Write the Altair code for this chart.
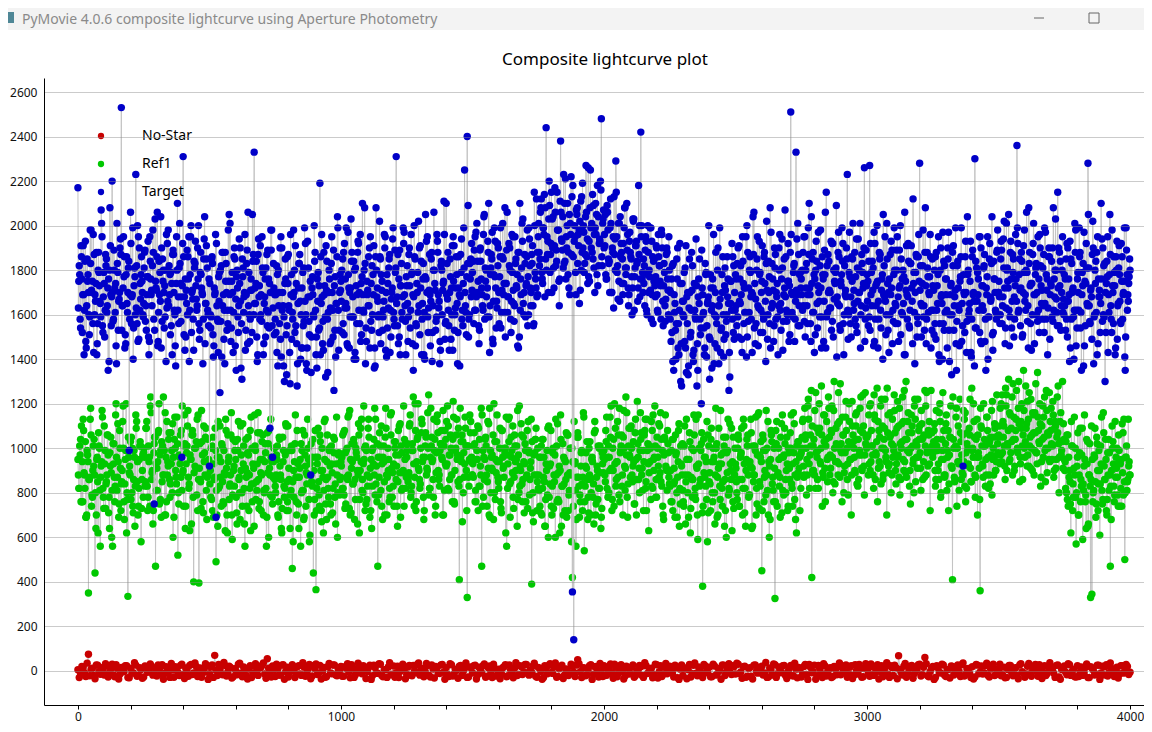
import altair as alt
import pandas as pd

# ---------------- values
# Target / Ref1: three interleaved readings per 5-frame step (offsets 0, 5/3, 10/3 frames)
# No-Star: two interleaved readings per 10-frame step (offsets 0, 5 frames)
target_a = [
    2170,1820,1540,1760,1910,1620,1480,1850,1700,1590,
    1980,1750,1430,1690,1880,1560,1790,1650,2010,1520,
    1740,1870,1610,1350,1800,1690,2200,1580,1720,1460,
    1830,1660,1900,2530,1640,1770,1510,1860,1700,990,
    2060,1680,1400,1810,2230,1560,1950,1620,1780,1700,
    1650,1890,1530,1770,1420,1840,1710,1980,750,1750,
    1860,1480,1690,2040,1570,1800,1730,1390,1920,1640,
    1780,1550,1870,1700,1460,1950,1620,1810,1740,960,
    2310,1680,1500,1890,1760,1620,2000,1710,1440,1830,
    1670,1900,1560,1790,1720,1380,1940,1650,1850,1600,
    920,1540,1860,1410,1690,690,1580,1770,1250,1820,
    1640,1490,1880,1700,1560,2050,1620,1750,1430,1900,
    1670,1800,1520,1740,1360,1850,1610,1960,1690,1470,
    1790,1580,1710,1840,2330,1650,1500,1870,1730,1600,
    1950,1420,1680,1810,1550,1760,1090,1890,960,1720,
    1580,1820,1370,1700,1490,1900,1640,1300,1760,1550,
    1870,1430,1690,1610,1980,1520,1740,1380,1830,1660,
    1450,1790,1570,1920,1350,1680,1510,880,1720,1600,
    1840,1420,1760,1530,2190,1650,1470,1880,1590,1710,
    1340,1800,1630,1950,1500,1730,1410,1860,1620,1700,
    1750,1520,1880,1630,1990,1460,1720,1590,1840,1680,
    1400,1810,1560,1930,1700,1480,1770,1620,2080,1540,
    1690,1860,1450,1740,1600,1910,1370,1800,1660,1520,
    1850,1710,1590,1960,1440,1780,1630,1870,1500,1720,
    1610,1890,2310,1550,1760,1420,1830,1680,1970,1570,
    1730,1480,1900,1620,1790,1350,1860,1560,1700,2020,
    1510,1840,1650,1420,1770,1930,1590,1710,1460,1880,
    1640,1800,1530,1960,1690,1380,1820,1600,1750,1490,
    2100,1670,1550,1850,1720,1440,1910,1630,1780,1520,
    1690,1870,1580,1740,2250,1610,2400,1500,1830,1680,
    1790,1560,1950,1680,1840,1470,1900,1720,1620,2050,
    1750,1590,1880,1430,1810,1970,1660,1770,1540,1920,
    1700,1860,1610,2010,1740,1500,1890,1680,1820,1580,
    1960,1710,1640,1850,1780,1450,2100,1690,1930,1600,
    1830,1740,1550,1990,1720,1870,1640,2150,1760,1680,
    1950,1820,2080,1760,1990,1680,2440,1870,2030,1790,
    2150,1900,1720,2060,1840,1980,1640,2380,1930,1810,
    2100,1760,2000,1880,1690,2220,355,140,1950,2070,
    1830,1980,1710,2130,1900,1790,2040,1860,2260,1750,
    1990,1880,2090,1700,1960,2180,1820,1930,2480,2010,
    1900,2050,1760,1980,1840,2120,1700,1950,1870,2290,
    1790,2010,1660,1920,1850,1740,2080,1810,1960,1690,
    1880,1770,2030,1620,1910,1830,1720,2000,2420,1760,
    1850,1640,1930,1780,1700,1990,1580,1860,1750,1680,
    1900,1610,1820,1730,1960,1550,1790,1670,1880,1600,
    1710,1480,1820,1350,1650,1560,1900,1420,1740,1280,
    1600,1790,1450,1680,1330,1850,1520,1710,1390,1620,
    1940,1470,1760,1580,1200,1690,1540,1830,1410,1660,
    1500,1780,1360,1720,1600,1880,1450,1640,1990,1530,
    1700,1410,1810,1570,1680,1260,1750,1620,1860,1490,
    1780,1550,1900,1660,1820,1430,1740,1610,1950,1500,
    1720,1860,1580,1690,2060,1470,1800,1640,1930,1520,
    1750,1600,1880,1390,1710,1840,1560,1970,1650,1480,
    1810,1700,1590,1900,1620,1760,1440,1850,1680,1570,
    1920,1730,2510,1610,1790,1480,2330,1690,1870,1550,
    1760,1620,1950,1500,1830,1690,2100,1560,1740,1880,
    1430,1800,1650,1970,1590,1720,1860,1480,1780,2150,
    1610,1840,1700,1530,1920,1670,1790,1410,1880,1640,
    1750,1990,1560,1820,1680,2230,1600,1770,1500,1850,
    1710,1580,1940,1660,1800,1450,1870,1720,2260,1630,
    1780,1550,2270,1690,1840,1460,1920,1640,1750,1580,
    1870,1710,1400,1820,1660,2010,1530,1760,1690,1890,
    1570,1800,1640,1950,1480,1730,1850,1600,1770,1420,
    1910,1680,1550,1830,1720,2120,1610,1790,1500,1860,
    2280,1650,1740,1590,1880,1470,1810,1700,1960,1620,
    1730,1510,1860,1620,1780,1390,1900,1650,1560,1820,
    1690,1450,1970,1600,1740,1880,1530,1710,1350,1840,
    1620,1770,1480,920,1690,1930,1570,1800,1650,1430,
    1860,1700,2300,1540,1790,1620,1950,1470,1730,1820,
    1580,1690,1400,1850,1660,2040,1520,1760,1610,1890,
    1700,1560,1930,1640,1810,1470,2010,1750,1620,1880,
    1540,1790,1680,1960,2360,1610,1850,1720,1500,1910,
    1660,1800,1570,2080,1730,1440,1870,1690,1780,1600,
    1950,1520,1820,1710,1640,1990,1580,1760,1860,1490,
    1730,1900,1620,1800,1670,2150,1550,1840,1700,1610,
    1780,1530,1920,1660,1390,1850,1700,1590,2010,1460,
    1760,1620,1880,1350,1730,1970,1550,1810,2280,1640,
    1710,1490,1900,1600,1840,1420,1760,1680,2100,1570,
    1820,1300,1740,1950,1610,1870,1520,1700,1790,1450,
    1930,1650,1780,1560,1860,1700,1410,1990,1620,1740,
    1800,
]

target_b = [
    1630,1780,1910,1520,1690,1840,1450,1750,1600,1980,
    1710,1560,1870,1660,1420,1800,1730,1590,1950,1680,
    1500,1820,1640,1760,2080,1550,1700,1890,1610,1380,
    1790,1670,1940,1530,1720,1860,1470,1650,1810,1580,
    1920,1690,1540,1770,1630,2000,1490,1740,1860,1600,
    1810,1570,1690,1930,1480,1760,1640,1880,1530,1720,
    2060,1610,1790,1450,1850,1700,1590,1960,1660,1820,
    1510,1740,1890,1620,1370,1800,1680,2010,1570,1730,
    1860,1440,1710,1600,1950,1780,1520,1670,1840,1930,
    1620,1760,1490,1880,1700,1580,2040,1650,1810,1550,
    1740,1590,1830,1460,1700,1920,1570,1660,1800,1410,
    1880,1620,1750,1530,1980,1690,1480,1790,1610,1850,
    1350,1720,1640,1900,1560,1770,1680,1440,1830,2060,
    1600,1710,1520,1870,1650,1740,1390,1940,1580,1690,
    1810,1470,1760,1620,1890,1540,1700,1980,1630,1510,
    1690,1430,1800,1560,1950,1620,1370,1740,1510,1860,
    1640,1290,1780,1580,1700,1910,1470,1650,1830,1400,
    1720,1550,1990,1600,1450,1810,1680,1340,1770,1590,
    1880,1500,1660,1730,1420,1960,1570,1690,1320,1840,
    1610,1760,1480,1700,1890,1530,1650,2040,1440,1780,
    1660,1850,1510,1760,1630,1970,1450,1720,1880,1590,
    1800,1400,1690,1920,1560,1740,2100,1610,1830,1480,
    1710,1640,1950,1530,1780,1360,1860,1680,1590,2020,
    1470,1750,1620,1900,1700,1540,1810,1430,1670,1940,
    1580,1790,1650,1870,1500,1730,1610,1990,1690,1420,
    1820,1590,1730,1960,1470,1680,1850,1550,1790,1640,
    1910,1420,1760,1610,2050,1700,1520,1870,1660,1390,
    1800,1740,1570,1930,1630,1480,1840,1710,2110,1560,
    1690,1880,1440,1770,1600,1950,1530,1720,1650,1860,
    1370,1790,1620,1990,1700,1510,1830,1580,1760,1920,
    1700,1890,1620,2010,1750,1530,1840,1690,1960,1580,
    1800,1720,2100,1640,1870,1490,1780,1930,1660,1820,
    1560,1990,1710,1850,1610,1740,2060,1680,1900,1520,
    1790,1650,1950,1730,1460,1880,1620,1810,2030,1700,
    1590,1860,1770,1940,1640,1830,1550,2000,1720,1880,
    2010,1850,2120,1740,1960,2080,1800,1930,2200,1870,
    1700,2040,1910,1820,2150,1980,1760,2060,1890,2230,
    1840,1950,2100,1720,2010,1870,2180,1930,1790,2050,
    1960,1650,2110,1880,2000,1830,2270,1940,1770,2080,
    1900,2140,1810,1990,2050,1730,1920,2200,1860,2030,
    1960,1780,2090,1850,1700,2010,1900,1630,1940,2150,
    1820,1750,2040,1880,1690,1990,1810,2100,1720,1930,
    1860,1600,2020,1770,1910,1840,2180,1680,1950,1790,
    1740,1890,1620,2000,1800,1710,1930,1560,1850,1770,
    1690,1960,1820,1580,1900,1730,1640,1870,1760,1950,
    1580,1760,1390,1690,1530,1850,1450,1620,1300,1740,
    1660,1480,1910,1560,1370,1700,1620,1820,1440,1590,
    1730,1350,1650,1510,1890,1600,1420,1780,1550,1680,
    1310,1720,1640,1960,1470,1590,1800,1380,1670,1540,
    1860,1490,1710,1600,1760,1430,1650,1920,1520,1700,
    1640,1830,1500,1760,1690,1950,1560,1720,1410,1880,
    1610,1790,1700,2040,1540,1670,1850,1460,1780,1620,
    1910,1580,1740,1830,1490,1700,2080,1630,1760,1550,
    1870,1680,1420,1800,1650,1940,1570,1720,1860,1600,
    1750,1510,1960,1690,1820,1580,1710,2010,1640,1790,
    1690,1880,1570,1800,1640,1990,1720,1480,1850,1610,
    1760,1930,1540,1700,1820,1450,1780,1660,2060,1590,
    1870,1710,1630,1920,1500,1750,1810,1680,1970,1550,
    1730,1840,1420,1690,1900,1620,1790,1560,1860,2010,
    1650,1770,1520,1940,1700,1600,1830,1740,1480,1890,
    1660,1840,1530,1790,1710,1970,1580,1740,1450,1880,
    1620,1760,2050,1680,1510,1850,1700,1600,1930,1470,
    1780,1650,1890,1560,1720,2000,1610,1800,1420,1750,
    1690,1920,1540,1830,1660,1740,1380,1870,1590,1960,
    1710,1500,1820,1640,2080,1580,1770,1690,1860,1530,
    1620,1800,1490,1730,1950,1560,1680,1400,1840,1610,
    1760,1900,1530,1690,1330,1820,1640,1990,1570,1720,
    1460,1860,1650,1780,1520,1700,2040,1600,1750,1410,
    1890,1660,1540,1810,1690,1950,1480,1730,1620,1870,
    1350,1770,1590,1920,1670,1510,1840,1700,1580,1980,
    1750,1600,1890,1680,2020,1540,1800,1720,1460,1930,
    1660,1850,1580,1760,1990,1620,1710,1880,1510,1790,
    1690,2060,1640,1830,1560,1740,1920,1470,1810,1700,
    1620,1960,1730,1580,1870,1650,1780,1420,1900,1690,
    1840,1570,1760,2030,1610,1720,1880,1530,1800,1670,
    1640,1850,1500,1760,1930,1580,1710,1400,1880,1620,
    1790,1990,1540,1690,1830,1460,1740,1650,2050,1570,
    1720,1870,1380,1800,1610,1950,1680,1520,1760,1900,
    1590,1700,1840,1430,1780,1640,1980,1560,1730,1860,
    1490,1810,1660,1920,1580,1750,1350,1890,1690,1770,
]

target_c = [
    1750,1580,1860,1690,1420,1930,1640,1780,1510,1830,
    1700,1960,1600,1740,1470,1880,1660,2070,1550,1790,
    1620,1850,1720,1390,1910,1680,1570,1800,1740,2010,
    1530,1700,1870,1640,1950,1450,1780,1610,1840,1690,
    1560,1990,1730,1600,1820,1480,1900,1670,1750,1590,
    1880,1640,1770,1500,1950,1690,1820,1580,2030,1710,
    1460,1840,1660,1900,1750,1540,1800,1630,1980,1690,
    1790,1420,1870,1600,1740,2100,1560,1830,1680,1920,
    1510,1760,1650,1860,1390,1950,1700,1580,1810,1730,
    1640,2000,1530,1780,1690,1850,1470,1910,1620,1760,
    1600,1850,1510,1720,1960,1640,1430,1790,1570,1880,
    1690,1380,1830,1620,1750,2010,1540,1700,1860,1460,
    1770,1590,1940,1660,1310,1810,1700,1530,1890,1640,
    1480,1760,2050,1600,1720,1840,1420,1680,1910,1570,
    1790,1650,1500,1870,1610,1740,1980,1550,1830,1690,
    1520,1780,1640,1900,1410,1700,1590,1850,1330,1740,
    1620,1960,1490,1680,1800,1550,1280,1720,1870,1600,
    1450,1810,1660,1380,1930,1570,1750,1500,1690,2000,
    1620,1360,1790,1540,1860,1680,1440,1730,1910,1580,
    1700,1470,1830,1620,1260,1770,1650,1990,1530,1710,
    1800,1560,1920,1650,1470,1780,1700,2030,1590,1840,
    1430,1730,1880,1620,1960,1510,1690,1800,1380,1750,
    1640,1900,1570,1820,1690,1450,2080,1720,1600,1860,
    1780,1530,1660,1950,1410,1740,1850,1620,1700,1990,
    1550,1810,1680,1470,1890,1730,1580,1920,1640,1770,
    1650,1870,1540,1780,1690,2000,1460,1740,1610,1900,
    1720,1580,1830,1400,1760,1950,1630,1690,1850,1520,
    2060,1710,1590,1880,1660,1440,1800,1740,1960,1570,
    1830,1620,1700,1490,1910,1750,1600,1860,1380,1720,
    1680,1940,1550,1810,1640,1770,2090,1600,1850,1710,
    1840,1620,1970,1700,1550,1890,1760,1640,2040,1810,
    1680,1930,1590,1780,1850,1470,1990,1720,1630,1900,
    1770,1540,1860,1690,2080,1740,1610,1920,1800,1660,
    1950,1570,1830,1720,1880,1500,1760,2010,1650,1870,
    1730,1980,1600,1820,1700,1910,1560,1790,2120,1690,
    1880,2060,1790,1990,2140,1850,1950,1700,2090,1920,
    2030,1810,2170,1890,1980,1750,2110,1940,2040,1830,
    2210,1900,1780,2050,1960,2130,1860,2000,1690,2080,
    1910,2020,1800,2190,1970,1870,2060,1740,1930,2250,
    2010,1850,1960,2100,1780,2040,1940,2160,1820,2070,
    1910,1760,2060,1830,1990,1700,1880,2130,1800,1950,
    1670,2010,1860,1740,1920,2080,1780,1890,1640,1970,
    1850,1720,2030,1810,1930,1660,1870,1760,2000,1700,
    1820,1950,1600,1880,1770,1990,1690,1840,1730,1910,
    1620,1860,1750,1980,1660,1830,1570,1900,1710,1800,
    1700,1520,1830,1610,1400,1760,1560,1920,1470,1660,
    1590,1810,1340,1700,1630,1500,1880,1420,1740,1580,
    1280,1680,1850,1540,1720,1610,1450,1790,1650,2000,
    1490,1620,1760,1380,1700,1560,1900,1640,1430,1780,
    1600,1730,1510,1860,1650,1320,1750,1580,1820,1620,
    1760,1590,1910,1650,1490,1840,1720,1610,2000,1570,
    1800,1680,1430,1870,1740,1560,1950,1630,1790,1700,
    1520,1860,1660,2020,1600,1770,1450,1830,1710,1900,
    1580,1740,1640,1960,1530,1810,1690,2070,1620,1750,
    1480,1880,1700,1590,1830,1660,1940,1550,1780,1720,
    1800,1640,1950,1720,1560,1870,1690,2040,1610,1780,
    1510,1840,1730,1660,1980,1590,1760,1890,1450,1820,
    1700,1630,1930,1570,1800,1740,2090,1650,1860,1530,
    1780,1920,1600,1710,1850,1490,1970,1680,1750,1620,
    1880,1550,1810,1700,2010,1640,1790,1900,1580,1730,
    1750,1590,1920,1640,1810,1480,1730,2000,1660,1850,
    1540,1780,1690,1950,1600,1740,1430,1870,1720,1620,
    1990,1560,1800,1680,1890,1510,1760,1650,2060,1710,
    1580,1840,1620,1910,1470,1790,1700,1860,1560,1750,
    1820,1640,1980,1530,1730,1880,1610,1770,1450,1850,
    1710,1560,1880,1650,1420,1800,1690,1970,1530,1760,
    1620,1850,1390,1730,1600,1910,1680,1470,1820,1640,
    1750,1990,1550,1700,1860,1430,1780,1620,1930,1580,
    1690,1370,1840,1660,1760,1520,1900,1640,1810,1480,
    1720,1950,1590,1680,1830,1440,1760,1620,1880,1700,
    1680,1850,1560,1940,1720,1630,1810,2050,1590,1760,
    1870,1500,1730,1660,1920,1780,1550,1840,1700,1980,
    1620,1790,1450,1880,1740,1600,2010,1690,1830,1570,
    1760,1900,1650,1810,1520,1970,1710,1630,1860,1740,
    1590,2080,1680,1800,1550,1900,1730,1640,1950,1600,
    1760,1580,1900,1690,1450,1830,1720,1620,1980,1540,
    1700,1860,1610,1790,1370,1750,1920,1640,1810,1560,
    1680,2020,1590,1740,1880,1470,1710,1650,1940,1600,
    1830,1520,1770,1690,2050,1580,1730,1860,1420,1800,
    1640,1910,1570,1750,1690,1990,1500,1780,1660,1850,
]

ref1_a = [
    950,820,1040,760,1130,880,690,990,350,870,
    1060,780,920,440,700,850,1010,560,940,820,
    1100,730,880,970,640,1050,810,930,760,1200,
    870,690,1000,840,1120,760,950,620,335,890,
    1030,800,710,960,1150,850,740,1010,580,900,
    980,830,1090,720,940,1190,860,660,1020,470,
    910,1070,750,990,850,1230,700,960,880,1040,
    780,930,1110,690,1000,840,520,970,1060,810,
    900,1150,740,1010,870,630,950,1080,400,920,
    1030,720,395,860,1170,760,940,1050,680,880,
    920,780,1010,690,870,490,960,820,1100,740,
    850,990,630,910,1060,770,880,700,1040,830,
    950,660,1120,800,900,740,1010,560,870,980,
    720,1080,840,930,650,990,810,1160,760,890,
    1030,700,940,820,1070,600,880,960,750,1000,
    830,970,700,1050,880,620,940,780,1110,850,
    720,990,810,460,900,1020,760,870,640,950,
    800,1080,690,920,840,1000,580,880,960,440,
    770,365,930,850,1060,720,900,810,1130,680,
    870,990,750,930,820,1040,660,880,970,790,
    940,820,1070,730,990,860,1150,700,910,840,
    1020,770,960,880,620,1090,810,930,1000,750,
    880,1130,690,950,830,1040,790,920,470,870,
    1010,740,960,850,1180,700,900,820,1060,780,
    930,1000,860,650,970,1110,810,890,740,1020,
    960,850,1100,780,990,1230,870,720,1040,910,
    820,1070,940,680,1010,880,1160,790,960,1050,
    860,990,740,1120,900,830,1020,950,700,1080,
    920,1190,810,970,880,1040,760,990,1130,850,
    410,960,1060,800,930,1010,330,870,1150,940,
    880,1010,760,950,1100,830,920,470,990,860,
    1050,740,910,1180,800,970,680,1030,890,940,
    820,1090,710,960,870,1000,560,930,1140,850,
    990,780,1060,900,650,970,830,1110,760,940,
    1020,870,730,980,910,390,800,880,1040,720,
    820,960,710,1040,870,650,930,790,1100,840,
    740,980,880,600,1010,770,920,1150,830,700,
    950,860,1060,720,890,1000,420,810,940,680,
    1070,830,760,990,870,540,920,1030,780,880,
    700,960,840,1120,750,900,820,1010,690,930,
    990,850,1140,780,960,1050,720,900,1200,830,
    940,1060,760,1010,880,1170,810,970,690,1090,
    870,1000,920,750,1130,860,960,800,1040,910,
    720,1080,850,990,630,940,1120,820,900,1010,
    780,960,870,1160,830,700,1050,920,810,980,
    900,760,1040,840,690,980,870,1110,750,920,
    810,1010,660,950,880,1070,730,860,990,790,
    1130,700,930,840,1020,380,890,960,770,1060,
    850,720,940,1000,800,1180,690,910,830,970,
    740,1050,860,600,990,820,930,1090,760,880,
    930,800,1060,740,970,860,1130,710,900,1010,
    780,940,1070,650,880,990,820,1150,730,960,
    450,1040,870,790,1000,700,920,1080,840,760,
    325,1020,880,950,690,1110,810,970,860,1050,
    740,910,1000,820,1160,770,940,870,1030,720,
    980,1120,870,1040,790,1190,930,1060,420,1010,
    880,1250,960,820,1090,1000,740,1150,910,1040,
    850,1180,970,1070,800,1300,940,1010,880,1120,
    990,760,1060,920,1210,860,1030,950,700,1100,
    1000,890,1160,830,970,1080,910,1240,790,1020,
    1050,880,1190,940,1010,820,1130,970,760,1080,
    920,1220,860,1040,990,700,1150,930,1060,880,
    1010,1170,840,960,1100,790,1000,1230,900,1040,
    870,1120,980,750,1070,930,1190,850,1010,960,
    1100,810,1040,940,1260,880,990,1060,720,1000,
    960,1080,830,1010,900,1160,780,1040,950,870,
    1110,990,720,1050,920,410,1000,860,1180,940,
    810,1070,970,880,1130,760,1020,930,1060,850,
    990,1200,880,1040,700,960,360,1090,920,1010,
    830,1140,960,880,1050,790,1000,1110,900,970,
    1060,930,1200,980,1100,860,1240,1010,940,1150,
    1030,1290,900,1080,990,1180,850,1120,1010,1350,
    960,1090,1210,920,1050,1000,1160,880,1070,980,
    1140,1020,830,1100,960,1230,1000,890,1060,940,
    1180,1010,870,1120,950,1070,800,1030,990,910,
    950,820,1060,740,900,620,1010,780,880,570,
    960,700,1090,830,590,920,760,1040,650,880,
    330,345,800,960,690,1020,840,610,930,750,
    1070,860,720,980,810,470,900,1030,760,870,
    1000,740,940,820,1110,790,500,960,850,920,
    880,
]

ref1_b = [
    880,1010,760,940,1080,820,690,970,860,1130,
    740,900,1040,800,950,620,1000,870,1170,780,
    930,840,1060,710,980,890,560,1020,830,960,
    1110,750,910,850,1190,680,990,800,1050,920,
    770,1000,860,650,1090,940,820,1030,730,970,
    1000,850,1120,780,960,1230,890,720,1050,930,
    810,1080,970,690,1010,880,1160,760,940,1070,
    840,990,600,1040,900,1140,800,960,870,1190,
    740,1020,930,1100,820,970,660,1060,890,1000,
    790,1150,910,850,1030,710,980,1090,870,950,
    840,1000,720,930,1090,810,650,960,870,1020,
    760,890,1130,700,940,830,1060,590,900,990,
    780,1040,860,680,970,1110,820,910,740,1050,
    880,630,1000,840,1150,770,930,860,1070,720,
    950,810,1020,560,890,1080,790,940,870,1000,
    800,950,690,1040,860,730,990,820,1100,760,
    910,640,1010,850,780,1150,700,930,870,560,
    990,810,1060,740,880,950,610,1020,830,900,
    1080,720,960,790,1030,670,870,1120,750,940,
    820,1000,700,890,1050,780,930,600,980,860,
    920,1060,790,980,870,1140,730,950,1020,840,
    680,1000,900,1110,770,940,860,1190,720,990,
    830,1050,910,640,1000,880,1130,760,960,1070,
    810,930,1010,700,1090,870,950,780,1160,890,
    740,1030,920,850,1100,690,980,900,1040,820,
    990,870,1110,800,1020,930,1200,760,1050,900,
    840,1130,960,720,1070,910,1000,820,1180,940,
    780,1040,890,1150,860,990,1080,700,1010,930,
    1120,820,970,1060,880,1210,750,1000,950,1090,
    860,1030,670,980,1140,900,1010,830,1070,960,
    930,1070,810,990,720,1040,880,1150,780,950,
    1010,850,1110,690,960,900,1200,770,1030,870,
    940,760,1080,910,1000,620,970,1130,840,1050,
    890,730,1010,950,1170,800,920,1060,860,710,
    990,880,1120,790,940,1030,670,980,1090,850,
    880,740,1010,820,960,650,900,1090,780,930,
    700,1000,850,1130,760,890,620,1040,830,960,
    720,1070,880,790,1000,580,940,1120,810,870,
    1050,690,920,840,1160,760,980,860,710,1030,
    800,940,660,1080,870,770,1000,890,730,960,
    950,1080,820,1010,900,1190,770,1040,930,860,
    1120,790,980,1060,700,1000,910,1160,840,970,
    1090,880,1030,750,950,1210,860,990,1070,810,
    940,1130,720,1020,890,1000,830,1150,960,780,
    1050,920,1100,850,990,680,1040,910,1080,870,
    830,990,720,910,1060,800,940,650,1010,880,
    760,1100,850,950,690,1030,870,780,1150,820,
    920,590,1000,860,1070,740,960,830,1120,710,
    890,1040,800,940,660,1000,870,1090,770,930,
    850,1010,720,980,1130,810,900,630,1050,880,
    910,770,1040,860,980,700,1100,820,950,1060,
    790,920,640,1010,880,1140,750,970,850,1030,
    720,990,900,1170,810,940,680,1060,870,1000,
    760,1120,890,830,1050,710,960,1090,800,930,
    1000,860,1150,740,980,880,620,1030,910,970,
    1000,1130,880,1060,950,1220,820,1010,1100,900,
    1170,980,860,1070,940,1280,890,1030,760,1120,
    960,1050,910,1190,850,1000,1090,940,1250,870,
    1020,1140,800,980,1080,930,1200,1010,880,1060,
    960,1150,840,1040,990,1230,900,1100,970,1050,
    1010,1150,900,1080,970,1240,860,1030,1120,940,
    1190,1000,880,1090,960,1270,920,1050,800,1130,
    990,1070,930,1210,870,1020,1110,950,1260,890,
    1040,1160,830,1000,1100,950,1220,1030,910,1080,
    980,1170,860,1060,1010,1250,920,1120,990,1070,
    980,1110,860,1040,930,1200,800,990,1080,880,
    1150,960,840,1050,920,1230,870,1010,740,1100,
    940,1030,890,1170,830,980,1070,920,1220,850,
    1000,1120,780,960,1060,910,1180,1010,870,1040,
    950,1140,820,1030,970,1210,880,1090,940,1020,
    1050,1180,940,1120,1010,1270,900,1080,1160,980,
    1230,1040,920,1130,1000,1300,960,1090,860,1170,
    1030,1110,970,1250,910,1060,1150,990,1290,930,
    1080,1200,870,1040,1140,990,1260,1070,950,1120,
    1020,1210,900,1100,1050,1280,960,1160,1030,1110,
    900,1030,770,960,850,1120,720,910,1000,800,
    1070,880,760,970,840,1150,790,930,660,1020,
    860,950,810,1090,750,900,990,840,1140,770,
    920,1040,700,880,980,830,1100,930,790,960,
    870,1060,740,950,890,1130,800,1010,860,940,
]

ref1_c = [
    820,970,1100,760,890,1030,700,940,860,1180,
    790,1010,880,640,960,1070,810,920,1140,730,
    990,850,1060,780,920,600,1020,870,1150,810,
    940,1080,720,900,1000,840,1200,770,960,880,
    1050,740,990,830,1120,700,950,1010,860,780,
    960,1090,830,1010,740,1160,900,980,1050,810,
    940,1200,770,1030,880,990,700,1120,920,860,
    1070,800,960,1140,870,1020,750,930,1080,890,
    1010,640,980,1170,840,950,1060,780,1000,910,
    1130,860,1020,730,970,1100,880,810,1040,940,
    900,770,1050,860,990,700,1120,830,940,1010,
    750,880,1080,620,960,840,1160,790,920,1030,
    710,990,870,1100,800,930,660,1040,890,970,
    820,1140,760,910,1010,850,1070,730,950,880,
    1060,800,980,690,1020,910,1130,780,940,860,
    880,1010,760,920,640,1050,830,970,720,1100,
    860,790,990,580,940,870,1080,750,910,1020,
    810,680,970,890,1130,770,930,850,1040,700,
    960,820,1090,740,900,1000,620,950,860,1060,
    780,920,1010,710,980,840,1140,800,930,870,
    960,820,1080,750,1000,880,1170,710,940,1040,
    860,980,660,1060,900,1130,800,950,1010,770,
    1090,870,720,990,930,1180,840,1020,790,960,
    1100,680,940,1050,880,1000,760,1150,910,830,
    1030,970,740,1080,890,1010,820,1190,950,870,
    1020,890,1150,830,990,740,1080,940,1200,860,
    1000,1110,780,960,1050,900,1240,820,1010,950,
    1130,700,980,1070,880,1020,960,1170,810,1040,
    930,1100,860,1000,760,1140,900,1060,970,830,
    1180,940,1030,870,1090,720,1010,950,1120,880,
    870,1020,760,950,1090,830,1180,740,960,1040,
    880,1120,700,990,910,1060,800,950,1150,850,
    1000,730,1080,920,980,1140,820,1030,690,960,
    1100,870,940,1010,770,1190,900,840,1050,930,
    760,1080,990,860,1130,710,970,1040,880,1000,
    810,960,700,1040,850,770,990,600,920,1080,
    830,730,970,880,1110,760,900,650,1020,840,
    940,690,1060,810,880,1000,740,930,560,1050,
    870,790,980,720,1140,830,910,680,1000,860,
    950,780,1070,700,920,1010,820,640,980,890,
    880,1030,960,800,1140,910,1000,740,1090,940,
    870,1180,990,830,1050,920,1230,780,1010,960,
    1100,850,940,1070,700,1020,910,1160,880,990,
    1060,820,1130,930,1010,770,1080,950,1190,860,
    1000,1110,890,1040,740,970,1150,900,1020,840,
    900,760,1040,850,970,690,1080,820,930,1020,
    740,880,1130,800,950,620,1000,860,1060,770,
    910,1150,830,990,710,1040,870,940,580,1010,
    840,1090,760,960,880,1020,700,930,1170,820,
    980,650,1050,890,790,1110,860,940,730,1000,
    850,1000,740,960,1090,820,930,650,1040,880,
    790,1130,910,850,1010,700,970,1160,830,940,
    1060,760,990,880,1120,600,950,1030,810,910,
    1080,740,1000,870,960,1150,790,1020,900,720,
    980,1070,840,930,1110,680,1010,890,960,820,
    1050,920,1180,1000,880,1130,970,1260,900,1040,
    820,1090,990,1200,930,1060,870,1150,1010,950,
    1230,880,1080,960,1170,840,1020,1110,930,1290,
    980,1060,890,1140,1000,790,1120,950,1210,1030,
    900,1100,1040,860,1180,970,1070,920,1250,1000,
    1060,930,1200,1010,880,1150,980,1270,910,1050,
    840,1100,1000,1220,940,1070,890,1160,1020,960,
    1240,900,1090,970,1180,860,1030,1120,940,1300,
    990,1070,900,1150,1010,800,1130,960,1220,1040,
    910,1110,1050,870,1190,980,1080,930,1260,1010,
    1030,900,1170,990,860,1120,950,1250,880,1020,
    810,1080,970,1190,910,1040,850,1140,1000,930,
    1220,860,1060,940,1160,820,1000,1090,910,1270,
    960,1050,870,1130,980,770,1100,930,1200,1010,
    880,1080,1020,840,1170,950,1050,900,1240,980,
    1100,970,1240,1050,920,1190,1020,1310,950,1090,
    880,1140,1040,1260,980,1110,930,1200,1060,1000,
    1280,920,1130,1010,1220,900,1070,1160,980,1340,
    1030,1110,940,1190,1050,850,1170,1000,1250,1080,
    950,1150,1090,910,1230,1020,1120,970,1300,1040,
    940,800,1060,870,750,1010,840,1140,780,920,
    700,980,860,1090,810,950,640,1030,880,830,
    1100,760,970,850,1050,720,900,1010,810,1160,
    860,950,770,1040,880,680,1000,830,1120,910,
    790,990,930,740,1070,850,960,810,1130,880,
]

nostar_a = [
    5,-12,18,-25,75,8,-20,27,-3,14,
    -18,22,-7,30,-26,10,-14,3,24,-30,
    12,-8,26,-19,6,-27,17,-2,21,-15,
    -23,9,28,-11,15,-29,4,19,-6,25,
    -16,13,-24,29,-9,20,-1,-28,11,23,
    -13,27,70,-21,7,-17,24,-4,16,-26,
    2,30,-10,18,-22,8,-30,21,-5,13,
    26,-14,55,-8,22,-25,10,-19,28,-2,
    -27,15,6,-12,24,-20,17,-7,29,-23,
    11,-16,25,-1,-28,19,-9,27,-18,4,
    20,-24,12,-6,28,-29,9,23,-13,16,
    -3,26,-21,14,-10,30,-26,5,18,-17,
    22,-8,-30,17,7,-15,25,-22,1,29,
    -19,12,-4,24,-27,9,20,-11,27,-6,
    15,-25,28,-14,3,21,-20,11,-29,18,
    -9,26,-17,6,23,-28,14,-3,30,-23,
    8,-13,19,-26,27,-5,12,-21,24,-16,
    29,-10,4,22,-24,16,-2,-30,13,25,
    -7,18,-28,10,26,-18,7,-12,21,-25,
    50,-4,15,-22,9,28,-15,20,-27,3,
    24,-19,11,-8,30,-26,17,-1,-23,14,
    -11,27,-20,5,19,-29,23,-6,12,-17,
    28,-3,-25,16,-13,21,-9,26,-30,8,
    -22,13,6,-27,25,-10,18,-18,29,-4,
    17,-26,22,-15,2,27,-21,9,-7,24,
    -14,30,-5,19,-28,11,-24,26,-1,15,
    21,-9,-29,13,-18,28,-12,5,23,-20,
    -2,25,-23,8,16,-27,20,-16,29,-8,
    26,-21,10,-30,22,-6,14,-25,7,18,
    -17,4,27,-13,24,-19,1,29,-28,12,
    9,-24,19,-10,28,-3,-26,16,-15,23,
    -20,14,68,-7,21,-28,11,25,-12,6,
    30,-16,60,-22,-4,20,-29,13,-9,27,
    -25,7,22,-18,15,-1,28,-23,10,-11,
    19,-27,26,-5,-14,24,-20,8,30,-16,
    3,-22,17,-29,25,-8,12,-19,27,-3,
    -28,21,-12,9,29,-24,16,-6,-21,18,
    13,-10,25,-27,6,22,-17,28,-2,-26,
    24,-5,-20,15,-30,19,4,-14,26,-9,
    -18,28,-8,11,-25,17,-13,23,-1,20,
    -6,
]

nostar_b = [
    -30,20,-8,35,-22,12,-35,26,-15,6,
    33,-27,9,-18,28,-36,16,-4,24,-31,
    -10,37,-24,14,-33,22,-6,31,-19,8,
    27,-14,-37,19,-2,34,-28,11,-21,30,
    -34,5,25,-16,36,-25,13,-9,32,-38,
    18,-29,3,29,-12,38,-23,21,-32,10,
    -17,35,-26,7,-36,24,-11,33,-20,15,
    36,-33,12,-27,4,30,-18,26,-37,17,
    -7,28,-30,20,-14,37,-24,9,-35,23,
    31,-9,-36,16,-26,34,-13,27,-22,2,
    -24,19,32,-31,10,-17,35,-5,23,-34,
    14,-38,26,-11,33,-21,6,-29,37,-15,
    -28,21,-3,30,-35,18,-19,25,-8,36,
    10,-26,34,-20,27,-32,15,-12,29,-37,
    -15,32,-23,8,-33,25,-1,36,-27,13,
    24,-36,17,-9,31,-24,22,-30,11,-18,
    -35,14,28,-22,5,-31,37,-16,20,-4,
    29,-19,-7,35,-28,12,-37,23,-13,32,
    -11,36,-25,18,-34,9,-21,30,-6,26,
    33,-30,13,-17,24,-38,19,-3,34,-25,
    -21,7,31,-33,16,-10,28,-36,21,-14,
    17,-28,-2,25,-20,37,-12,8,-31,30,
    -32,23,-15,34,-7,19,-27,14,-38,27,
    8,-35,29,-13,36,-22,4,-30,22,-9,
    -26,30,-19,11,-37,26,-5,33,-16,20,
    35,-12,-33,21,-24,15,-36,27,-10,6,
    -18,38,-27,4,31,-29,18,-8,25,-34,
    12,-21,35,-31,9,-15,29,-38,16,-3,
    -37,25,-10,32,-23,6,-30,20,-17,36,
    22,-5,-28,17,-34,28,-14,10,-26,33,
    -9,31,-20,13,-36,24,-2,37,-29,15,
    26,-35,7,-18,34,-11,21,-33,3,28,
    -23,16,33,-26,12,-38,23,-7,30,-19,
    5,-32,20,-4,27,-25,36,-15,11,-30,
    -36,29,-13,22,-8,35,-27,18,-21,9,
    30,-17,-31,6,25,-22,14,-35,32,-12,
    -14,34,-24,19,-3,28,-34,23,-11,37,
    11,-29,27,-37,15,-6,33,-20,8,-27,
    -25,18,-9,31,-30,13,-18,26,-38,21,
    19,-23,36,-14,4,-32,24,-10,29,-16,
]

series_names = ["No-Star", "Ref1", "Target"]
series_colors = ["#c80000", "#00c800", "#0000c8"]
x_ticks = list(range(0, 4001, 200))
y_ticks = list(range(0, 2601, 200))

window_title = "PyMovie 4.0.6 composite lightcurve using Aperture Photometry"
plot_title = "Composite lightcurve plot"

FONT = "Noto Sans"
W, H = 1100, 627


def series_table(name, readings, step):
    parts = []
    k = len(readings)
    for j, vals in enumerate(readings):
        parts.append(pd.DataFrame({
            "frame": [i * step + j * step / k for i in range(len(vals))],
            "value": vals,
        }))
    df = pd.concat(parts).sort_values("frame").reset_index(drop=True)
    df["series"] = name
    return df


tables = [
    series_table("No-Star", [nostar_a, nostar_b], 10),
    series_table("Ref1", [ref1_a, ref1_b, ref1_c], 5),
    series_table("Target", [target_a, target_b, target_c], 5),
]

xenc = alt.X(
    "frame:Q",
    scale=alt.Scale(domain=[-129, 4053], nice=False, zero=False),
    axis=alt.Axis(
        values=x_ticks, format="d",
        labelExpr="datum.value % 1000 === 0 ? datum.label : ''",
        grid=False, tickSize=4, tickColor="black", domainColor="black",
        labelPadding=2, labelFontSize=12, labelFont=FONT, labelColor="#111111",
        title=None, zindex=1, labelOverlap=False,
    ),
)
yenc = alt.Y(
    "value:Q",
    scale=alt.Scale(domain=[-153, 2663], nice=False, zero=False),
    axis=alt.Axis(
        values=y_ticks, format="d", grid=True, gridColor="#8c8c8c", gridOpacity=0.45,
        ticks=False, labelPadding=7, domainColor="black",
        labelFontSize=12, labelFont=FONT, labelColor="#111111",
        title=None, zindex=1, labelOverlap=False,
    ),
)
color = alt.Color(
    "series:N",
    scale=alt.Scale(domain=series_names, range=series_colors),
    legend=alt.Legend(
        title=None, orient="none", legendX=50, legendY=51,
        labelFontSize=14, labelFont=FONT, labelColor="black",
        symbolSize=40, symbolType="circle", labelOffset=34, rowPadding=14, padding=0,
    ),
)

layers = []
for df in tables:
    layers.append(
        alt.Chart(df).mark_line(color="#c4c4c4", strokeWidth=1, clip=True).encode(x=xenc, y=yenc)
    )
    layers.append(
        alt.Chart(df).mark_circle(size=55, opacity=1, clip=True).encode(x=xenc, y=yenc, color=color)
    )

# window chrome and title
one = pd.DataFrame({"t": [window_title]})
bar = alt.Chart(one).mark_rect(color="#f3f3f3").encode(
    x=alt.value(-36), x2=alt.value(W), y=alt.value(-70), y2=alt.value(-48)
)
icon = alt.Chart(one).mark_rect(color="#4f8796").encode(
    x=alt.value(-36), x2=alt.value(-30), y=alt.value(-66), y2=alt.value(-55)
)
wtitle = alt.Chart(one).mark_text(
    align="left", baseline="middle", fontSize=14, font=FONT, color="#8a8a8a"
).encode(x=alt.value(-22), y=alt.value(-58), text="t:N")
minimize = alt.Chart(one).mark_rule(color="#666666", strokeWidth=1).encode(
    x=alt.value(990), x2=alt.value(1000), y=alt.value(-60)
)
maximize = alt.Chart(one).mark_rect(fill="white", fillOpacity=0, stroke="#666666", strokeWidth=1).encode(
    x=alt.value(1045), x2=alt.value(1055), y=alt.value(-65), y2=alt.value(-55)
)
ptitle_df = pd.DataFrame({"t": [plot_title]})
ptitle = alt.Chart(ptitle_df).mark_text(
    align="center", baseline="middle", fontSize=17, font=FONT, color="black"
).encode(x=alt.value(561), y=alt.value(-18), text="t:N")

chart = alt.layer(*layers, bar, icon, wtitle, minimize, maximize, ptitle).properties(
    width=W, height=H,
    autosize=alt.AutoSizeParams(type="none"),
    padding={"left": 36, "top": 70, "right": 0, "bottom": 20},
    background="white",
).configure_view(strokeWidth=0)

chart.save("out.html", embed_options={"renderer": "svg", "actions": False})
